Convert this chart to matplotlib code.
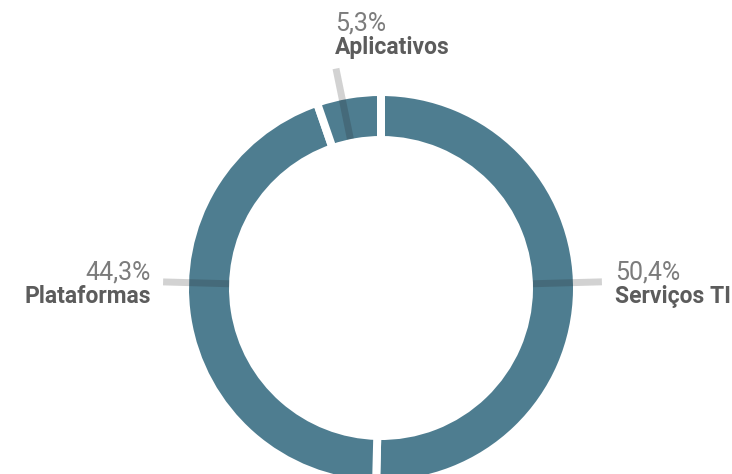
import numpy as np
import matplotlib
matplotlib.use("Agg")
import matplotlib.pyplot as plt

# dados do gráfico
categorias = ["Serviços TI", "Plataformas", "Aplicativos"]
valores = [50.4, 44.3, 5.3]
rotulos_pct = ["50,4%", "44,3%", "5,3%"]

# layout (px)
W, H = 732, 474
cx, cy = 381, H - 288
r_out, r_in = 192, 152
gap = 8
cor_anel = "#4e7d90"

fig = plt.figure(figsize=(W / 100, H / 100), dpi=100)
ax = fig.add_axes([0, 0, 1, 1])

lw = gap * 0.72
ax.pie(valores, startangle=90, counterclock=False, colors=[cor_anel] * 3,
       center=(cx, cy), radius=r_out + gap / 2,
       wedgeprops=dict(width=r_out - r_in + gap, edgecolor="white", linewidth=lw))

# pie() mexe nos limites, entao define depois
ax.set_xlim(0, W)
ax.set_ylim(0, H)
ax.set_aspect("equal")
ax.axis("off")

# direção das linhas-guia (graus) e posição do texto relativa à ponta
angulos = [1.6, 178.4, 101.6]
alinh = ["left", "right", "left"]
desloc = [(13, 0), (-12, 0), (-1, 36)]
raio_fim = [221, 218, 224]

for nome, pct, ang, ha, (dx, dy), r1 in zip(categorias, rotulos_pct, angulos, alinh, desloc, raio_fim):
    a = np.deg2rad(ang)
    r0 = 152
    x0, y0 = cx + r0 * np.cos(a), cy + r0 * np.sin(a)
    x1, y1 = cx + r1 * np.cos(a), cy + r1 * np.sin(a)
    ax.plot([x0, x1], [y0, y1], color="#222222", alpha=0.2, lw=5, solid_capstyle="butt")
    tx, ty = x1 + dx, y1 + dy
    ax.text(tx, ty + 2, pct, ha=ha, va="baseline", fontsize=18, color="#7c7c7c",
            family="Roboto", fontweight="normal")
    ax.text(tx, ty - 21, nome, ha=ha, va="baseline", fontsize=16.5, color="#5c5c5c",
            family="Roboto", fontweight="bold")

fig.savefig("out.png", dpi=100)
